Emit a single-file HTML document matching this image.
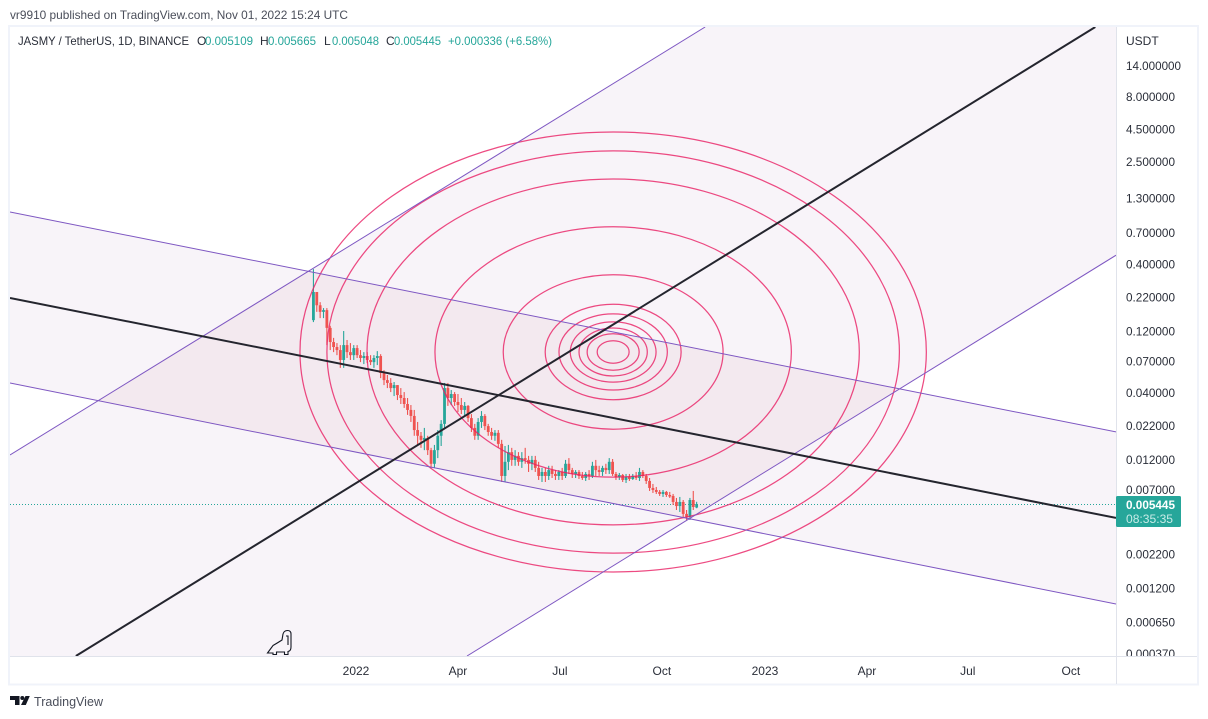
<!DOCTYPE html>
<html>
<head>
<meta charset="utf-8">
<title>JASMY / TetherUS chart</title>
<style>
html,body{margin:0;padding:0;background:#fff;width:1208px;height:719px;overflow:hidden}
svg{display:block;font-family:"Liberation Sans",sans-serif}
</style>
</head>
<body>
<svg id="chart" xmlns="http://www.w3.org/2000/svg" width="1208" height="719" viewBox="0 0 1208 719">
  <defs>
    <clipPath id="plot-clip"><rect x="10" y="27" width="1106" height="629"/></clipPath>
    <clipPath id="scale-clip"><rect x="1117" y="27" width="80" height="629"/></clipPath>
    <clipPath id="channel-b-clip"><polygon id="channel-b-clip-shape" points="0,0"/></clipPath>
  </defs>
  <text x="10" y="19" font-size="12" fill="#4a4e5a" textLength="338" lengthAdjust="spacingAndGlyphs">vr9910 published on TradingView.com, Nov 01, 2022 15:24 UTC</text>
  <rect x="9" y="26" width="1189" height="658.5" fill="#fff" stroke="#f0f3fa" stroke-width="2"/>
  <g id="plot" clip-path="url(#plot-clip)"></g>
  <line x1="1116.5" y1="27" x2="1116.5" y2="684" stroke="#e0e3eb"/>
  <line x1="10" y1="656.5" x2="1197" y2="656.5" stroke="#e0e3eb"/>
  <g id="price-axis" clip-path="url(#scale-clip)"></g>
  <g id="time-axis"></g>
  <text x="18" y="45" font-size="12" fill="#2a2e39" textLength="171" lengthAdjust="spacingAndGlyphs">JASMY / TetherUS, 1D, BINANCE</text>
  <g font-size="12" fill="#26a69a">
    <text x="197" y="45" fill="#2a2e39">O</text><text x="205" y="45" textLength="48" lengthAdjust="spacingAndGlyphs">0.005109</text>
    <text x="260" y="45" fill="#2a2e39">H</text><text x="268" y="45" textLength="48" lengthAdjust="spacingAndGlyphs">0.005665</text>
    <text x="324" y="45" fill="#2a2e39">L</text><text x="332" y="45" textLength="47" lengthAdjust="spacingAndGlyphs">0.005048</text>
    <text x="386" y="45" fill="#2a2e39">C</text><text x="394" y="45" textLength="47" lengthAdjust="spacingAndGlyphs">0.005445</text>
    <text x="448" y="45" textLength="104" lengthAdjust="spacingAndGlyphs">+0.000336 (+6.58%)</text>
  </g>
  <text x="1126" y="45" font-size="12" fill="#2a2e39">USDT</text>
  <g>
    <rect x="1116" y="496" width="65" height="31" rx="1.5" fill="#26a69a"/>
    <text x="1126" y="509" font-size="12" font-weight="bold" fill="#fff" textLength="49" lengthAdjust="spacingAndGlyphs">0.005445</text>
    <text x="1126" y="523" font-size="12" fill="#c8ebe7" textLength="47" lengthAdjust="spacingAndGlyphs">08:35:35</text>
  </g>
  <path d="M267.5 653 L273 645.5 Q279 642 282 640 L283 634 Q284 630.5 287.5 630.5 Q291 630.5 291 634 L291 647 Q291 651 288 651.5 L288 654.5 L284.5 654.5 L284.5 652 L276.5 652 L276.5 654.5 L273 654.5 L273 653 Z M286 636 L288 636 L288 645" fill="none" stroke="#131722" stroke-width="1.1"/>
  <g>
    <path d="M10 696 H19.5 V705 H15 V700 H10 Z" fill="#131722"/>
    <circle cx="22.3" cy="698" r="2" fill="#131722"/>
    <polygon points="25.5,696 29.8,696 25.8,705 21,705" fill="#131722"/>
    <text x="34" y="706" font-size="13" fill="#4a4e5a" textLength="69" lengthAdjust="spacingAndGlyphs">TradingView</text>
  </g>
</svg>
<script>
// Candle series (one candle per three days, first at day -38 relative to 1 Jan 2022)
const firstCandleDay = -38;
const candleStepDays = 3;
const opens = [.147,.2436,.192,.1706,.176,.128,.0993,.0908,.086,.072,.094,.0829,.0785,.0891,.0785,.0746,.0773,.072,.0693,.0746,.0773,.057,.0502,.0477,.0435,.0459,.0384,.0364,.0327,.0294,.0264,.0205,.0185,.0172,.0178,.0143,.0112,.0143,.0185,.0229,.0435,.0364,.0391,.0339,.0321,.0294,.0316,.0254,.0213,.0185,.0237,.0264,.022,.0198,.0185,.0195,.016,.009,.0116,.0138,.012,.0129,.0116,.0124,.012,.0112,.012,.0104,.009,.00967,.009,.01,.00933,.009,.00967,.009,.0112,.01,.00933,.00967,.009,.00868,.00933,.009,.0108,.01,.00967,.0104,.01,.0116,.00933,.00884,.00916,.00838,.00884,.00853,.009,.00868,.00967,.009,.00823,.00726,.007,.00676,.00652,.00676,.0064,.00629,.00565,.00525,.00565,.00456,.00432,.00585,.005109];
const highs = [.367,.2436,.203,.1825,.1825,.133,.107,.0975,.094,.121,.103,.0975,.094,.094,.086,.0829,.0829,.0785,.0785,.0844,.0799,.06,.055,.052,.0485,.0459,.0435,.0405,.0364,.0321,.0294,.0237,.0198,.0213,.0185,.0149,.0157,.0205,.0245,.0477,.0477,.042,.0405,.0391,.0364,.0339,.0321,.0273,.0229,.0254,.0288,.0273,.0229,.0213,.0205,.0205,.0172,.0154,.0157,.0149,.0143,.0138,.0138,.0149,.0129,.0129,.0129,.0116,.0104,.0104,.0108,.0108,.01,.01,.0104,.012,.0124,.0104,.01,.01,.00967,.00967,.01,.0116,.012,.0108,.0108,.0112,.0124,.0122,.00967,.0095,.00933,.00933,.00933,.00933,.00967,.0104,.01,.00933,.00868,.0078,.00739,.007,.007,.00688,.00676,.00652,.00607,.00618,.00585,.00489,.00607,.00688,.005665];
const lows = [.142,.1706,.1525,.1525,.094,.086,.0829,.0785,.0625,.0625,.0746,.072,.072,.0746,.0693,.0669,.0681,.0657,.0625,.0657,.052,.0459,.0435,.0405,.0377,.0351,.0327,.0305,.0269,.0237,.0185,.0157,.0149,.0143,.0131,.0104,.0104,.0124,.0154,.0213,.0316,.0321,.0316,.0283,.0273,.0264,.0237,.0198,.0172,.0172,.0213,.0205,.0185,.0172,.0169,.0149,.00808,.00808,.01,.0108,.0108,.0108,.0104,.0112,.00967,.01,.00967,.00838,.00808,.00808,.00838,.00868,.00838,.00838,.00838,.00868,.00933,.00868,.00868,.00853,.00838,.00823,.00838,.00868,.009,.009,.009,.00933,.00933,.009,.00838,.00838,.00808,.00794,.00823,.00838,.00838,.00823,.00868,.0078,.00688,.00664,.00652,.00629,.00618,.00618,.00607,.00535,.00489,.00472,.00424,.00409,.00409,.00489,.005048];
const closes = [.2436,.192,.1706,.176,.128,.0993,.0908,.086,.072,.094,.0829,.0785,.0891,.0785,.0746,.0773,.072,.0693,.0746,.0773,.057,.0502,.0477,.0435,.0459,.0384,.0364,.0327,.0294,.0264,.0205,.0185,.0172,.0178,.0143,.0112,.0143,.0185,.0229,.0435,.0364,.0391,.0339,.0321,.0294,.0316,.0254,.0213,.0185,.0237,.0264,.022,.0198,.0185,.0195,.016,.009,.0116,.0138,.012,.0129,.0116,.0124,.012,.0112,.012,.0104,.009,.00967,.009,.01,.00933,.009,.00967,.009,.0112,.01,.00933,.00967,.009,.00868,.00933,.009,.0108,.01,.00967,.0104,.01,.0116,.00933,.00884,.00916,.00838,.00884,.00853,.009,.00868,.00967,.009,.00823,.00726,.007,.00676,.00652,.00676,.0064,.00629,.00565,.00525,.00565,.00456,.00432,.00585,.00516,.005445];

// Axis ticks
const priceTickLabels = ["14.000000","8.000000","4.500000","2.500000","1.300000","0.700000","0.400000","0.220000","0.120000","0.070000","0.040000","0.022000","0.012000","0.007000","0.002200","0.001200","0.000650","0.000370"];
const timeTickLabels = ["2022","Apr","Jul","Oct","2023","Apr","Jul","Oct"];
const timeTickDays = [0,91,182,273,365,456,546,638];
const lastPrice = 0.005445;

// Drawing anchors as [day, price]
const channelATop = [[-308.9,1.022],[678.6,.0198]];
const channelAMid = [[-308.9,.2187],[678.6,.004236]];
const channelABot = [[-308.9,.04767],[678.6,.000906]];
const channelBTop = [[-308.9,.0131],[311.6,28.17]];
const channelBMid = [[-250,.000357],[659.8,28.17]];
const channelBBot = [[99.1,.000357],[678.6,.4727]];
const fibCenter = [229.5,.0831];
const fibRadiusDays = 279.5;
const fibRadiusDecades = 1.713;
const fibLevels = [.051,.083,.109,.137,.173,.217,.351,.569,.786,.914,1];

// Axis functions
function xAt(day){ return 356 + day * 1.1205; }
function yAt(price){ return 504 - 128.44 * Math.log10(price / lastPrice); }

const NS = 'http://www.w3.org/2000/svg';
const plot = document.getElementById('plot');
const priceAxis = document.getElementById('price-axis');
const timeAxis = document.getElementById('time-axis');
function make(tag, parent, attrs){
  const el = document.createElementNS(NS, tag);
  for (const k in attrs) el.setAttribute(k, attrs[k]);
  parent.appendChild(el);
  return el;
}
// Pixel endpoints of an anchor line extended across the whole plot width
function span(line){
  const x0 = xAt(line[0][0]), y0 = yAt(line[0][1]);
  const x1 = xAt(line[1][0]), y1 = yAt(line[1][1]);
  const m = (y1 - y0) / (x1 - x0);
  return [[10, y0 + (10 - x0) * m], [1116, y0 + (1116 - x0) * m]];
}
// Clip a polygon against a horizontal limit
function clipY(poly, limit, keepBelow){
  const out = [];
  poly.forEach(function(p, i){
    const q = poly[(i + 1) % poly.length];
    const inP = keepBelow ? p[1] >= limit : p[1] <= limit;
    const inQ = keepBelow ? q[1] >= limit : q[1] <= limit;
    if (inP) out.push(p);
    if (inP !== inQ) {
      const t = (limit - p[1]) / (q[1] - p[1]);
      out.push([p[0] + (q[0] - p[0]) * t, limit]);
    }
  });
  return out;
}
function band(a, b){
  return clipY(clipY([a[0], a[1], b[1], b[0]], 27, true), 656, false);
}
function pts(poly){
  return poly.map(function(p){ return p[0] + ',' + p[1]; }).join(' ');
}
// Segment of a spanning line inside the plot's vertical range
function inPlot(l){
  let a = l[0], b = l[1];
  const cut = function(p, q, y){ const t = (y - p[1]) / (q[1] - p[1]); return [p[0] + (q[0] - p[0]) * t, y]; };
  if (a[1] > 656) a = cut(l[0], l[1], 656);
  if (a[1] < 27) a = cut(l[0], l[1], 27);
  if (b[1] > 656) b = cut(l[0], l[1], 656);
  if (b[1] < 27) b = cut(l[0], l[1], 27);
  return [a, b];
}

// Channel fills
const aTop = span(channelATop), aMid = span(channelAMid), aBot = span(channelABot);
const bTop = span(channelBTop), bMid = span(channelBMid), bBot = span(channelBBot);
const bandA = band(aTop, aBot), bandB = band(bTop, bBot);
document.getElementById('channel-b-clip-shape').setAttribute('points', pts(bandB));

const fillA = make('polygon', plot, {points: pts(bandA), fill: '#f8f4f9'});


const fillB = make('polygon', plot, {points: pts(bandB), fill: '#f8f4f9'});


const fillAB = make('polygon', plot, {points: pts(bandA), fill: '#f3e9ef', 'clip-path': 'url(#channel-b-clip)'});



// Last price line
const priceLine = make('line', plot, {x1: 10, x2: 1116, y1: yAt(lastPrice) + .5, y2: yAt(lastPrice) + .5, stroke: '#26a69a', 'stroke-width': 1, 'stroke-dasharray': '1 2'});



// Candles
const candleGroup = make('g', plot, {});


opens.forEach(function(open, i){
  const close = closes[i];
  const color = close >= open ? '#26a69a' : '#ef5350';
  const x = xAt(firstCandleDay + i * candleStepDays);
  const wick = make('line', candleGroup, {x1: x, x2: x, y1: yAt(highs[i]), y2: yAt(lows[i]), stroke: color, 'stroke-width': 1.1});
  
  
  const top = Math.min(yAt(open), yAt(close));
  const h = Math.max(1.5, Math.abs(yAt(open) - yAt(close)));
  const body = make('rect', candleGroup, {x: x - 1.4, y: top, width: 2.8, height: h, fill: color});
  
  
});

// Fib ellipses
fibLevels.forEach(function(level){
  const cx = xAt(fibCenter[0]), cy = yAt(fibCenter[1]);
  const rx = xAt(fibCenter[0] + fibRadiusDays * level) - cx;
  const ry = 128.44 * fibRadiusDecades * level;
  const e = make('ellipse', plot, {cx: cx, cy: cy, rx: rx, ry: ry, fill: 'none', stroke: '#e91e63', 'stroke-opacity': .8, 'stroke-width': 1.25});
  
  
});

// Channel lines
[aTop, aBot, bTop, bBot].forEach(function(full){
  const l = inPlot(full);
  const ln = make('line', plot, {x1: l[0][0], y1: l[0][1], x2: l[1][0], y2: l[1][1], stroke: '#7e57c2', 'stroke-width': 1});
  
  
});
[aMid, bMid].forEach(function(full){
  const l = inPlot(full);
  const ln = make('line', plot, {x1: l[0][0], y1: l[0][1], x2: l[1][0], y2: l[1][1], stroke: '#24252e', 'stroke-width': 2});
  
  
});

// Price ticks
priceTickLabels.forEach(function(label){
  const t = make('text', priceAxis, {x: 1126, y: yAt(parseFloat(label)) + 4, 'font-size': 12, fill: '#2a2e39', textLength: label.length > 8 ? 55 : 49, lengthAdjust: 'spacingAndGlyphs'});
  t.textContent = label;
  
  
});

// Time ticks
timeTickLabels.forEach(function(label, i){
  const t = make('text', timeAxis, {x: xAt(timeTickDays[i]), y: 675, 'font-size': 12, 'text-anchor': 'middle', fill: '#2a2e39'});
  t.textContent = label;
  
  
});
</script>
</body>
</html>
